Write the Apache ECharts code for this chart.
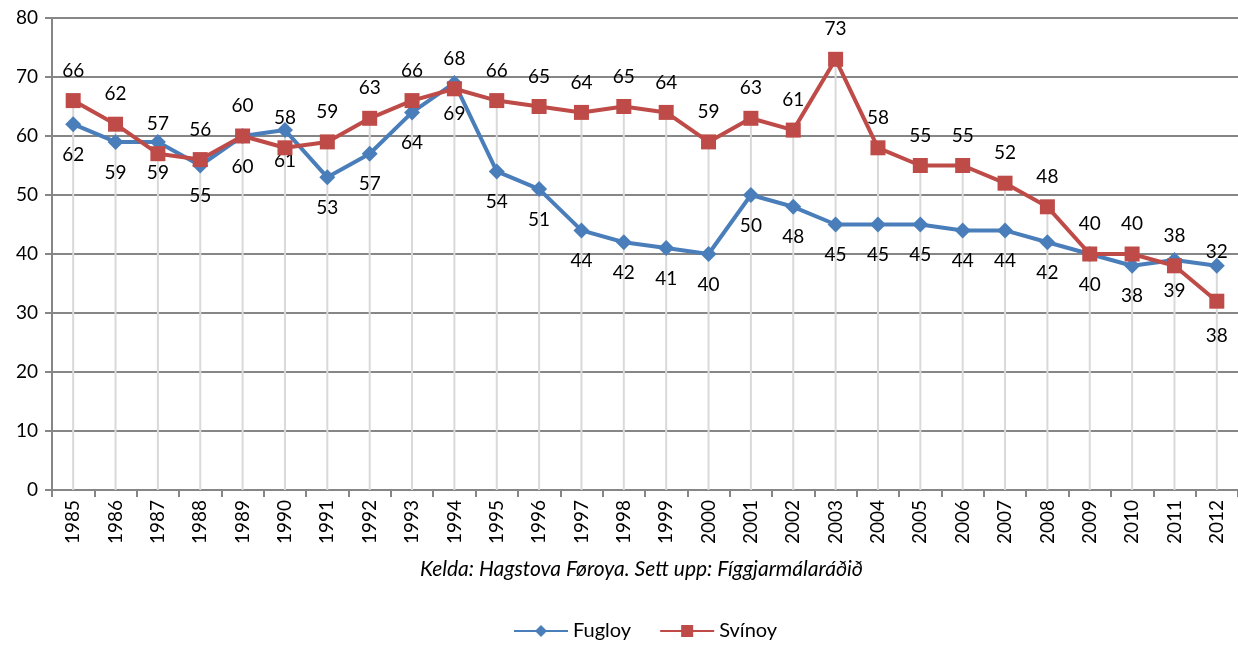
<!DOCTYPE html>
<html>
<head>
<meta charset="utf-8">
<script src="https://cdn.jsdelivr.net/npm/echarts@6/dist/echarts.min.js"></script>
<style>
  html, body { margin: 0; padding: 0; background: #fff; }
  #chart { width: 1238px; height: 648px; }
</style>
</head>
<body>
<div id="chart"></div>
<script>
const years = ['1985','1986','1987','1988','1989','1990','1991','1992','1993','1994','1995','1996','1997','1998',
  '1999','2000','2001','2002','2003','2004','2005','2006','2007','2008','2009','2010','2011','2012']
const fugloy = [62, 59, 59, 55, 60, 61, 53, 57, 64, 69, 54, 51, 44, 42, 41, 40, 50, 48, 45, 45, 45, 44, 44, 42, 40, 38, 39, 38]
const svinoy = [66, 62, 57, 56, 60, 58, 59, 63, 66, 68, 66, 65, 64, 65, 64, 59, 63, 61, 73, 58, 55, 55, 52, 48, 40, 40, 38, 32]
const yTicks = [0, 10, 20, 30, 40, 50, 60, 70, 80]

const font = 'Lato'
const blue = '#4a7ebb'
const red = '#be4b48'

// drop lines go from the higher of the two points down to the axis
const dropTops = years.map((y, i) => Math.max(fugloy[i], svinoy[i]))

// the last year's labels sit further off, as in the original
const fugloyData = fugloy.map((v, i) => i === years.length - 1
  ? { value: v, label: { offset: [0, 40] } } : v)
const svinoyData = svinoy.map((v, i) => i === years.length - 1
  ? { value: v, label: { offset: [0, -19] } } : v)

const chart = echarts.init(document.getElementById('chart'))

chart.setOption({
  animation: false,
  textStyle: { fontFamily: font },
  grid: { left: 52, right: 0, top: 18, bottom: 158 },
  legend: {
    data: ['Fugloy', 'Svínoy'],
    bottom: 2,
    left: 508,
    itemWidth: 54,
    itemHeight: 15,
    itemGap: 28,
    textStyle: { fontFamily: font, fontSize: 20, color: '#000' }
  },
  graphic: [{
    type: 'text',
    left: 420,
    top: 559,
    style: {
      text: 'Kelda: Hagstova Føroya. Sett upp: Fíggjarmálaráðið',
      font: 'italic 21px Lato',
      fill: '#000'
    }
  }],
  xAxis: {
    type: 'category',
    data: years,
    boundaryGap: true,
    axisLine: { lineStyle: { color: '#868686', width: 2 } },
    axisTick: { show: true, length: 7, lineStyle: { color: '#868686', width: 2 } },
    axisLabel: { rotate: 90, fontSize: 19, color: '#000', margin: 10, interval: 0 },
    splitLine: { show: false }
  },
  yAxis: {
    type: 'value',
    min: yTicks[0],
    max: yTicks[yTicks.length - 1],
    interval: 10,
    axisLine: { show: true, lineStyle: { color: '#868686', width: 2 } },
    axisTick: { show: true, length: 7, lineStyle: { color: '#868686', width: 2 } },
    axisLabel: { fontSize: 19, color: '#000', margin: 14 },
    splitLine: { lineStyle: { color: '#868686', width: 2 } }
  },
  series: [
    {
      name: 'drop',
      type: 'bar',
      data: dropTops,
      barWidth: 2,
      silent: true,
      z: 1,
      itemStyle: { color: '#d9d9d9' }
    },
    {
      name: 'Fugloy',
      type: 'line',
      data: fugloyData,
      symbol: 'diamond',
      symbolSize: 16,
      z: 3,
      lineStyle: { color: blue, width: 4 },
      itemStyle: { color: blue },
      label: { show: true, position: 'bottom', distance: 13, fontSize: 19, color: '#000' }
    },
    {
      name: 'Svínoy',
      type: 'line',
      data: svinoyData,
      symbol: 'rect',
      symbolSize: 15,
      z: 4,
      lineStyle: { color: red, width: 4 },
      itemStyle: { color: red },
      label: { show: true, position: 'top', distance: 13, fontSize: 19, color: '#000' }
    }
  ]
})
</script>
</body>
</html>
